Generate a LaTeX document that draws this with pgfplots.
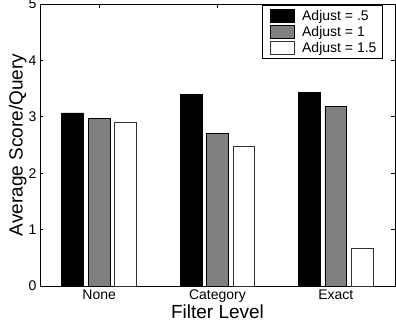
\documentclass[border=0pt]{standalone}
\usepackage{pgfplots}
\pgfplotsset{compat=1.18}
\usepackage{fontspec}
\setmainfont{Liberation Sans}

\begin{document}
\begin{tikzpicture}
\begin{axis}[
  scale only axis,
  width=355bp, height=282bp,
  xmin=0.5, xmax=3.5,
  ymin=0, ymax=5,
  xtick={1,2,3},
  xticklabels={None,Category,Exact},
  ytick={0,1,2,3,4,5},
  tick pos=both, tick align=inside,
  ticklabel pos=left,
  major tick length=3.5bp,
  axis line style={line width=0.9bp},
  every tick/.style={line width=0.7bp, black},
  /pgf/number format/assume math mode=true,
  tick label style={font=\fontsize{14bp}{16bp}\selectfont},
  xlabel={Filter Level},
  ylabel={Average Score/Query},
  label style={font=\fontsize{19bp}{22bp}\selectfont, inner sep=0pt},
  xlabel style={at={(axis description cs:0.5,-0.1135)}, anchor=base},
  ylabel style={at={(axis description cs:-0.037,0.5)}, anchor=south},
  legend style={
    at={(axis description cs:0.966,0.996)}, anchor=north east,
    font=\fontsize{14bp}{16bp}\selectfont,
    draw=black, line width=0.9bp,
    inner xsep=4bp, inner ysep=2.5bp,
    row sep=0.5bp,
    cells={anchor=west},
  },
  legend image code/.code={
    \path[draw=none, fill=none] (-4bp,0bp) -- (30bp,0bp);
    \draw[#1, line width=0.7bp] (0bp,-6.5bp) rectangle (24bp,6.5bp);
  },
]
\coordinate (origin) at (rel axis cs:0,0);
\addplot[ybar, bar width=0.185, bar shift=-0.223, fill=black, draw=black, line width=0.7bp]
  coordinates {(1,3.07) (2,3.39) (3,3.43)};
\addlegendentry{Adjust = .5}
\addplot[ybar, bar width=0.185, bar shift=0, fill=black!50, draw=black, line width=0.7bp]
  coordinates {(1,2.97) (2,2.70) (3,3.18)};
\addlegendentry{Adjust = 1}
\addplot[ybar, bar width=0.185, bar shift=0.223, fill=white, draw=black!80, line width=0.7bp]
  coordinates {(1,2.91) (2,2.48) (3,0.66)};
\addlegendentry{Adjust = 1.5}
\end{axis}
% fixed page frame around the axis box
\pgfresetboundingbox
\useasboundingbox ([shift={(-40bp,-42bp)}]origin) rectangle ++(396bp,328bp);
\end{tikzpicture}
\end{document}
